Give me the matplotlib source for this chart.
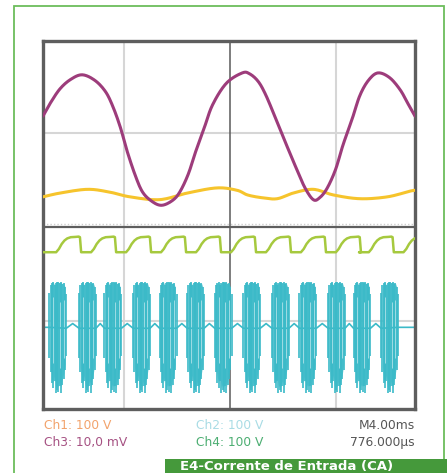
import matplotlib.pyplot as plt
from matplotlib.patches import Rectangle
import numpy as np

# screen in divisions: x = 0 is the trigger line, y = 0 the split line
# Ch3 (magenta) trace samples
ch3_x = [-1.76, -1.69, -1.60, -1.50, -1.39, -1.27, -1.17, -1.10, -1.03, -0.97, -0.89,
         -0.82, -0.73, -0.64, -0.54, -0.47, -0.39, -0.32, -0.24, -0.16, -0.03, 0.12,
         0.19, 0.27, 0.34, 0.43, 0.52, 0.62, 0.71, 0.79, 0.85, 0.92, 1.00, 1.07,
         1.16, 1.23, 1.31, 1.40, 1.51, 1.61, 1.68, 1.75]
ch3_y = [1.18, 1.32, 1.47, 1.57, 1.62, 1.56, 1.44, 1.28, 1.06, 0.82, 0.55,
         0.37, 0.27, 0.23, 0.28, 0.37, 0.56, 0.80, 1.05, 1.30, 1.53, 1.64,
         1.63, 1.55, 1.41, 1.17, 0.92, 0.65, 0.42, 0.29, 0.31, 0.41, 0.61, 0.87,
         1.16, 1.40, 1.56, 1.64, 1.59, 1.46, 1.32, 1.18]

# Ch1 (yellow) trace samples
ch1_x = [-1.76, -1.60, -1.34, -1.13, -0.94, -0.66, -0.40, -0.12, 0.07, 0.17, 0.31,
         0.45, 0.60, 0.79, 0.98, 1.23, 1.49, 1.70, 1.75]
ch1_y = [0.32, 0.36, 0.40, 0.37, 0.32, 0.29, 0.36, 0.415, 0.39, 0.34, 0.31,
         0.30, 0.36, 0.40, 0.34, 0.30, 0.32, 0.38, 0.39]

# Ch4 (green) falling edges and levels
ch4_edges = [-1.40, -1.07, -0.74, -0.41, -0.08, 0.25, 0.58, 0.91, 1.24, 1.55]
ch4_high = -0.11
ch4_low = -0.27

# Ch2 (cyan) burst centres, burst extent and idle level
ch2_bursts = [-1.62, -1.34, -1.10, -0.83, -0.58, -0.32, -0.06, 0.21, 0.48, 0.74,
              1.01, 1.25, 1.51]
ch2_top = -0.585
ch2_bottom = -1.77
ch2_idle = -1.07

labels_left = ["Ch1: 100 V", "Ch3: 10,0 mV"]
labels_mid = ["Ch2: 100 V", "Ch4: 100 V"]
labels_right = ["M4.00ms", "776.000µs"]
caption = "E4-Corrente de Entrada (CA)"


def smooth(x, y, n=12):
    """Catmull-Rom pass through the samples so the trace draws as a curve."""
    x = np.asarray(x, float)
    y = np.asarray(y, float)
    px = np.concatenate([[2 * x[0] - x[1]], x, [2 * x[-1] - x[-2]]])
    py = np.concatenate([[2 * y[0] - y[1]], y, [2 * y[-1] - y[-2]]])
    t = np.linspace(0, 1, n, endpoint=False)
    out_x, out_y = [], []
    for i in range(1, len(px) - 2):
        for p, out in ((px, out_x), (py, out_y)):
            p0, p1, p2, p3 = p[i - 1], p[i], p[i + 1], p[i + 2]
            out.extend(0.5 * (2 * p1 + (-p0 + p2) * t + (2 * p0 - 5 * p1 + 4 * p2 - p3) * t ** 2
                              + (-p0 + 3 * p1 - 3 * p2 + p3) * t ** 3))
    out_x.append(x[-1])
    out_y.append(y[-1])
    return out_x, out_y


W, H = 447, 473
fig = plt.figure(figsize=(W / 100, H / 100), dpi=100)
fig.patch.set_facecolor("white")

# outer green frame
fig.add_artist(Rectangle((14 / W, -0.05), 430 / W, 1 - 6 / H + 0.05,
                         transform=fig.transFigure, fill=False,
                         edgecolor="#6cbd5c", lw=1.3))

ax = fig.add_axes([43 / W, 1 - 409 / H, 372 / W, 368 / H])
ax.set_xlim(-1.76, 1.75)
ax.set_ylim(-1.94, 1.98)
ax.set_xticks([])
ax.set_yticks([])
for s in ax.spines.values():
    s.set_color("#5e5e5e")
    s.set_linewidth(2.4)

# graticule
for gx in (-1, 1):
    ax.axvline(gx, color="#d6d6d6", lw=1.5, zorder=0)
for gy in (-1, 1):
    ax.axhline(gy, color="#d6d6d6", lw=1.5, zorder=0)
ax.axhline(0.035, color="#cfcfcf", lw=1.0, ls=(0, (1, 1.5)), zorder=0)
ax.axvline(0, color="#5a5a5a", lw=1.1, zorder=1)
ax.axhline(0, color="#5e5e5e", lw=1.6, zorder=1)

# Ch2 bursts: dense strokes with ragged ends
cyan = "#3bbac8"
bw = 0.16
stroke_pos = np.linspace(-0.5, 0.5, 14)
stroke_top = [-0.70, -0.62, -0.60, -0.59, -0.62, -0.60, -0.585, -0.59, -0.60, -0.59,
              -0.61, -0.60, -0.64, -0.72]
stroke_bot = [-1.40, -1.55, -1.66, -1.72, -1.64, -1.77, -1.74, -1.76, -1.70, -1.77,
              -1.68, -1.62, -1.52, -1.38]
for c in ch2_bursts:
    xs = c + stroke_pos * bw
    ax.vlines(xs, stroke_bot, stroke_top, color=cyan, lw=1.2, zorder=2)
    ax.fill_between(xs[1:-1], [b + 0.06 for b in stroke_bot[1:-1]], stroke_top[1:-1],
                    color=cyan, alpha=0.75, lw=0, zorder=2)
    # lighter streaks inside each burst
    ax.vlines(xs[[3, 8, 11]], [-1.45, -1.5, -1.4], [-0.75, -0.8, -0.78],
              color="#9fdde4", lw=0.7, zorder=2)

idle_x = [-1.76, ch2_bursts[0] - bw / 2]
idle_y = [ch2_idle, ch2_idle]
for a, b in zip(ch2_bursts[:-1], ch2_bursts[1:]):
    idle_x += [a + bw / 2, (a + b) / 2, b - bw / 2]
    idle_y += [ch2_idle - 0.01, ch2_idle + 0.04, ch2_idle - 0.01]
idle_x += [ch2_bursts[-1] + bw / 2, 1.75]
idle_y += [ch2_idle, ch2_idle]
ax.plot(idle_x, idle_y, color=cyan, lw=1.2, zorder=2)

# Ch4 trace: slow rise, short plateau, fast fall at each edge
period = np.mean(np.diff(ch4_edges))
u_shape = np.array([0, 0.28, 0.36, 0.44, 0.52, 0.60, 0.70, 0.84, 0.93, 0.965, 1.0])
f_shape = np.array([0, 0, 0.22, 0.55, 0.78, 0.92, 1.0, 1.02, 1.04, 1.0, 0])
gx_all, gy_all = [-1.76], [ch4_low]
for e in ch4_edges + [ch4_edges[-1] + period]:
    gx_all += list(e - period + u_shape * period)
    gy_all += list(ch4_low + f_shape * (ch4_high - ch4_low))
ax.plot(gx_all, gy_all, color="#a6c93e", lw=1.8, zorder=3, solid_joinstyle="round")

# Ch1 and Ch3
ax.plot(*smooth(ch1_x, ch1_y), color="#f6c42c", lw=2.2, zorder=4, solid_capstyle="round")
ax.plot(*smooth(ch3_x, ch3_y), color="#9d3c7b", lw=2.2, zorder=5, solid_capstyle="round")

# channel settings under the screen
fs = 8.8
row_y = [1 - 425 / H, 1 - 442 / H]
fig.text(44 / W, row_y[0], labels_left[0], color="#f2a36c", fontsize=fs, va="center")
fig.text(44 / W, row_y[1], labels_left[1], color="#a65283", fontsize=fs, va="center")
fig.text(196 / W, row_y[0], labels_mid[0], color="#a9dce5", fontsize=fs, va="center")
fig.text(196 / W, row_y[1], labels_mid[1], color="#4cae72", fontsize=fs, va="center")
fig.text(415 / W, row_y[0], labels_right[0], color="#555555", fontsize=fs, va="center", ha="right")
fig.text(415 / W, row_y[1], labels_right[1], color="#555555", fontsize=fs, va="center", ha="right")

# caption tab
fig.add_artist(Rectangle((165 / W, -0.05), 1, 0.05 + 14 / H, transform=fig.transFigure,
                         facecolor="#45993b", edgecolor="none"))
fig.text(180 / W, 1 - 466.5 / H, caption, color="white", fontsize=9.5, fontweight="bold",
         va="center", ha="left")

fig.savefig("out.png", dpi=100, facecolor="white")
